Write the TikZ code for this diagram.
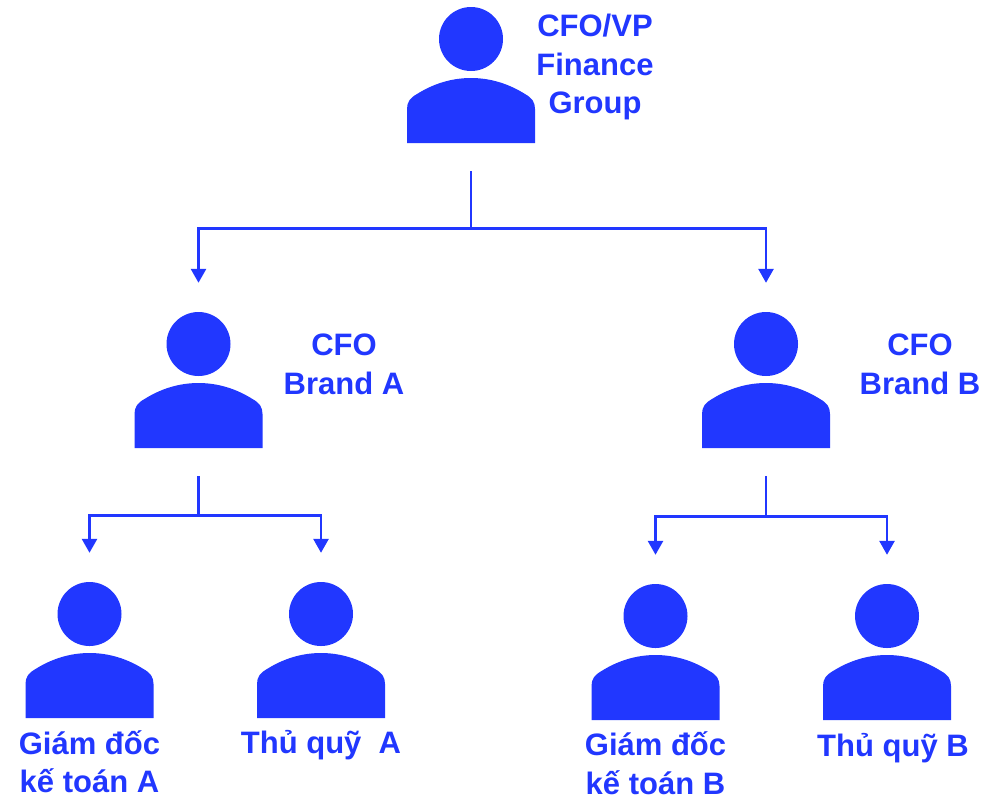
\documentclass[tikz,border=0pt]{standalone}
\usepackage{fontspec}
\setmainfont{Liberation Sans}
\usepackage{xcolor}
\definecolor{cblue}{HTML}{2137FF}
\usepackage{tikz}
\usetikzlibrary{arrows.meta, positioning}
\newcommand{\PersonIcon}{%
	\fill[cblue, shift={(path picture bounding box.center)}] (0pt,36pt) circle (32pt);
	\fill[cblue, shift={(path picture bounding box.center)}]
		(-64pt,-68pt) -- (-64pt,-34pt)
		.. controls (-64pt,-27pt) and (-61pt,-23pt) .. (-54pt,-19pt)
		.. controls (-38pt,-9pt) and (-20pt,-3pt) .. (0pt,-3pt)
		.. controls (20pt,-3pt) and (38pt,-9pt) .. (54pt,-19pt)
		.. controls (61pt,-23pt) and (64pt,-27pt) .. (64pt,-34pt)
		-- (64pt,-68pt) -- cycle;
}
\tikzset{
Person/.style={
	rectangle,
	inner sep=0pt,
	minimum width=128pt,
	minimum height=136pt,
	path picture={\PersonIcon}
},
Name/.style={
	align=center,
	inner sep=0pt,
	text=cblue,
	text depth=0pt,
	font=\fontsize{31}{38.5}\selectfont\bfseries
},
Edge/.style={
	draw=cblue,
	line width=2.7pt
},
ArrowEdge/.style={
	Edge,
	shorten >=29pt,
	-{Triangle[length=14pt,width=15pt]}
}
}

\begin{document}
\begin{tikzpicture}[x=1pt, y=1pt]
	\useasboundingbox (0,0) rectangle (981,-796);

	\node[Person] (G) at (471,-75) {};
	\node[Person, below of= G, node distance=305pt, xshift=-272.5pt] (A) {};
	\node[Person, below of= G, node distance=305pt, xshift=295pt] (B) {};

	\node[Person, below of= A, node distance=270pt, xshift=-109pt] (GA) {};
	\node[Person, below of= A, node distance=270pt, xshift=122.5pt] (QA) {};
	\node[Person, below of= B, node distance=272pt, xshift=-110.5pt] (GB) {};
	\node[Person, below of= B, node distance=272pt, xshift=121pt] (QB) {};

	\node[Name, right of= G, node distance=124pt, yshift=11pt] (tG) {CFO/VP\\Finance\\Group};
	\node[Name, right of= A, node distance=145.5pt, yshift=16pt] (tA) {CFO\\Brand A};
	\node[Name, right of= B, node distance=154pt, yshift=16pt] (tB) {CFO\\Brand B};
	\node[Name, below of= GA, node distance=111.5pt] (tGA) {Giám đốc\\kế toán A};
	\node[Name, below of= QA, node distance=91.5pt] (tQA) {Thủ quỹ~ A};
	\node[Name, below of= GB, node distance=111pt] (tGB) {Giám đốc\\kế toán B};
	\node[Name, below of= QB, node distance=92.5pt, xshift=6pt] (tQB) {Thủ quỹ B};

	\coordinate[below=85pt of G.south] (JG);
	\coordinate[below=67pt of A.south] (JA);
	\coordinate[below=68pt of B.south] (JB);

	\draw[Edge, shorten <=28pt] (G.south) -- (JG);
	\draw[Edge, shorten <=28pt] (A.south) -- (JA);
	\draw[Edge, shorten <=28pt] (B.south) -- (JB);
	\draw[ArrowEdge] (JG) -| (A.north);
	\draw[ArrowEdge] (JG) -| (B.north);
	\draw[ArrowEdge] (JA) -| (GA.north);
	\draw[ArrowEdge] (JA) -| (QA.north);
	\draw[ArrowEdge] (JB) -| (GB.north);
	\draw[ArrowEdge] (JB) -| (QB.north);
\end{tikzpicture}
\end{document}
